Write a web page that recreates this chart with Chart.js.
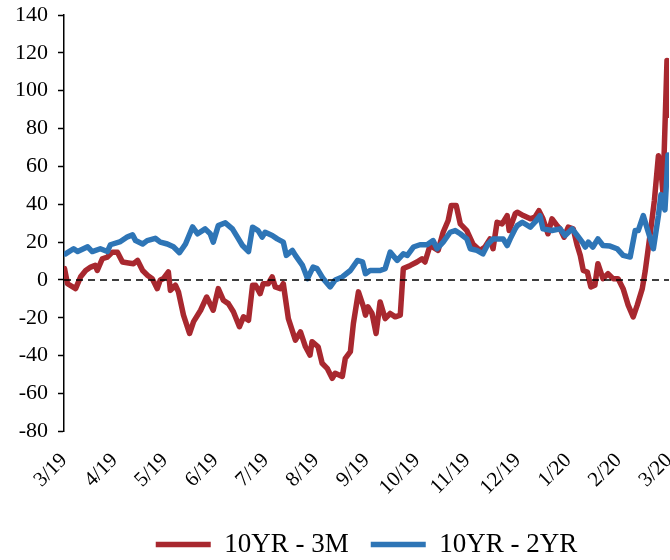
<!DOCTYPE html>
<html>
<head>
<meta charset="utf-8">
<script src="https://cdn.jsdelivr.net/npm/chart.js@4.4.1/dist/chart.umd.min.js"></script>
<style>
  body { margin: 0; background: #fff; }
</style>
</head>
<body>
<canvas id="Charts_Line_Yield_Spreads" width="670" height="560"></canvas>
<script>
var monthLabels = ['3/19', '4/19', '5/19', '6/19', '7/19', '8/19', '9/19', '10/19', '11/19', '12/19', '1/20', '2/20', '3/20'];

// months since start of Mar 2019
var redMonths = [
  0.01, 0.07, 0.23, 0.33, 0.43, 0.53, 0.62, 0.66, 0.76, 0.86, 0.96, 1.06, 1.16, 1.28, 1.38, 1.46, 1.56, 1.66, 1.75, 1.85,
  1.91, 1.97, 2.07, 2.11, 2.21, 2.27, 2.37, 2.49, 2.57, 2.71, 2.83, 2.96, 3.06, 3.16, 3.26, 3.36, 3.48, 3.56, 3.66, 3.74,
  3.80, 3.89, 3.95, 4.05, 4.13, 4.19, 4.29, 4.35, 4.45, 4.59, 4.69, 4.79, 4.88, 4.92, 5.04, 5.12, 5.22, 5.32, 5.38, 5.52,
  5.58, 5.68, 5.74, 5.84, 5.94, 5.98, 6.03, 6.11, 6.19, 6.27, 6.37, 6.47, 6.57, 6.67, 6.73, 6.87, 7.00, 7.10, 7.16, 7.26,
  7.42, 7.52, 7.62, 7.68, 7.78, 7.86, 7.99, 8.11, 8.25, 8.35, 8.45, 8.51, 8.59, 8.69, 8.79, 8.83, 8.95, 8.99, 9.11, 9.25,
  9.34, 9.42, 9.50, 9.60, 9.68, 9.78, 9.84, 9.92, 10.00, 10.10, 10.18, 10.24, 10.30, 10.38, 10.45, 10.53, 10.59, 10.69, 10.79, 10.89,
  10.99, 11.09, 11.19, 11.29, 11.37, 11.47, 11.53, 11.63, 11.71, 11.79, 11.83, 11.88, 11.96, 12.00
];
var redValues = [
  6, -2, -4.6, 1.7, 5, 6.8, 7.7, 5, 11.2, 12.1, 14.7, 14.7, 9.5, 9, 8.6, 10.3, 5, 2.4, 0.7, -4.6,
  0, 0.7, 4.2, -5.5, -2.8, -6.3, -18.6, -28.3, -22, -16, -9, -16, -4.6, -10.7, -12.5, -16.8, -24.7, -19.5, -21.3, -2.8,
  -2.8, -7.2, -2, -2, 1.6, -3.7, -4.6, -2, -20.4, -31.8, -27.4, -35.3, -39.7, -32.6, -35.3, -44, -46.7, -52, -49.3, -51,
  -41.4, -37.9, -23, -6.3, -14.2, -18.6, -14.2, -17.7, -28.3, -11.6, -20.4, -17.7, -19.5, -18.6, 6, 7.7, 9.5, 11.2, 9.5, 18.2,
  15.6, 25.2, 31.4, 39.3, 39.3, 29.6, 26.1, 19, 15.6, 17.4, 21.7, 16.5, 30.5, 29.6, 34, 26.1, 35, 35.8, 34, 32.3,
  33.2, 36.6, 32.3, 24.4, 32.3, 28.7, 27, 22.6, 27.9, 27, 18.2, 13, 5, 4.2, -3.7, -2.8, 8.6, 0.7, 3.3, 0.7,
  0.7, -4.6, -13.3, -19.5, -13.3, -4.6, 5, 25, 42, 65.6, 62, 46, 116, 87
];

var blueMonths = [
  0.03, 0.19, 0.27, 0.47, 0.56, 0.72, 0.86, 0.92, 1.12, 1.26, 1.36, 1.42, 1.56, 1.65, 1.81, 1.91, 2.05, 2.17, 2.29, 2.41,
  2.55, 2.65, 2.80, 2.90, 2.96, 3.06, 3.20, 3.34, 3.44, 3.54, 3.66, 3.74, 3.85, 3.93, 3.99, 4.13, 4.23, 4.35, 4.41, 4.53,
  4.59, 4.73, 4.83, 4.94, 5.02, 5.14, 5.28, 5.38, 5.52, 5.68, 5.82, 5.92, 5.98, 6.07, 6.27, 6.37, 6.47, 6.61, 6.73, 6.81,
  6.93, 7.06, 7.20, 7.32, 7.40, 7.52, 7.66, 7.76, 7.86, 7.99, 8.06, 8.19, 8.31, 8.41, 8.51, 8.71, 8.79, 8.85, 8.95, 8.99,
  9.09, 9.25, 9.34, 9.44, 9.50, 9.68, 9.84, 9.94, 10.08, 10.18, 10.28, 10.34, 10.40, 10.49, 10.59, 10.69, 10.83, 10.97, 11.09, 11.23,
  11.33, 11.39, 11.49, 11.59, 11.69, 11.79, 11.84, 11.92, 11.98
];
var blueValues = [
  13.8, 16.5, 15, 17.5, 15, 16.5, 15, 18.6, 20.3, 22.8, 23.8, 20.8, 19, 20.8, 22, 20, 19, 17.5, 14.4, 19,
  28, 24.4, 27, 24.4, 20, 28.7, 30.2, 27, 22.6, 18.2, 15, 27.9, 26.1, 22.6, 25.2, 23.5, 21.7, 20, 13, 15.6,
  13, 7.7, 0.7, 6.8, 6, 0.7, -3.7, 0, 1.6, 5, 10.3, 9.6, 3.3, 5, 5, 6, 14.7, 10.3, 13.8, 13,
  17.4, 18.6, 18.6, 20.8, 16.5, 20, 25.2, 26.1, 24.4, 21.7, 16.5, 15.6, 13.8, 19, 21.7, 21.7, 18.2, 21.7, 27, 28.7,
  30.5, 27.9, 30.5, 34, 27, 26.1, 27, 23.5, 27, 23.5, 20, 17.4, 20, 17.4, 21.7, 18.2, 17.9, 16.5, 13, 12.1,
  26.1, 26.1, 34, 25.2, 16.5, 34, 45, 37, 66
];

var yTicks = { min: -80, max: 140, step: 20 };

var serif = 'Liberation Serif';

// dashed line at zero, drawn over the series like the original
var zeroLine = {
  id: 'zeroLine',
  afterDatasetsDraw: function (chart) {
    var ctx = chart.ctx;
    var area = chart.chartArea;
    var y = chart.scales.y.getPixelForValue(0);
    ctx.save();
    ctx.setLineDash([7, 5]);
    ctx.lineWidth = 1.5;
    ctx.strokeStyle = '#000';
    ctx.beginPath();
    ctx.moveTo(area.left, y);
    ctx.lineTo(area.right, y);
    ctx.stroke();
    ctx.restore();
  }
};

function toPoints(xs, ys) {
  return xs.map(function (x, i) { return { x: x, y: ys[i] }; });
}

var ctx = document.getElementById('Charts_Line_Yield_Spreads').getContext('2d');

new Chart(ctx, {
  type: 'line',
  data: {
    datasets: [{
      label: '10YR - 3M',
      data: toPoints(redMonths, redValues),
      borderColor: '#A8282F',
      backgroundColor: '#A8282F',
      borderWidth: 5.5,
      pointRadius: 0,
      borderJoinStyle: 'round',
      borderCapStyle: 'round',
      order: 2
    }, {
      label: '10YR - 2YR',
      data: toPoints(blueMonths, blueValues),
      borderColor: '#2E75B6',
      backgroundColor: '#2E75B6',
      borderWidth: 5.5,
      pointRadius: 0,
      borderJoinStyle: 'round',
      borderCapStyle: 'round',
      order: 1 // blue sits on top of red
    }]
  },
  options: {
    responsive: false,
    animation: false,
    layout: { padding: { left: 5, right: 1, top: 15, bottom: -8 } },
    scales: {
      x: {
        type: 'linear',
        min: 0,
        max: monthLabels.length - 1,
        grid: { display: false },
        border: { display: false },
        // rotated labels end at their tick, so no room is needed on the right
        afterFit: function (scale) { scale.paddingRight = 0; },
        ticks: {
          stepSize: 1,
          autoSkip: false,
          minRotation: 45,
          maxRotation: 45,
          padding: 9,
          color: '#000',
          font: { family: serif, size: 21 },
          callback: function (v) { return monthLabels[v]; }
        }
      },
      y: {
        min: yTicks.min,
        max: yTicks.max,
        afterFit: function (scale) { scale.paddingTop = 0; },
        grid: {
          drawOnChartArea: false,
          drawTicks: true,
          tickLength: 6,
          tickColor: '#000',
          tickWidth: 1.5
        },
        border: { color: '#000', width: 1.5 },
        ticks: {
          stepSize: yTicks.step,
          padding: 10,
          color: '#000',
          font: { family: serif, size: 22 }
        }
      }
    },
    plugins: {
      legend: {
        position: 'bottom',
        fullSize: false,
        labels: {
          usePointStyle: true,
          pointStyle: 'line',
          pointStyleWidth: 55,
          padding: 22,
          color: '#000',
          font: { family: serif, size: 27 },
          sort: function (a, b) { return a.datasetIndex - b.datasetIndex; }
        }
      },
      tooltip: { enabled: false }
    }
  },
  plugins: [zeroLine]
});
</script>
</body>
</html>
